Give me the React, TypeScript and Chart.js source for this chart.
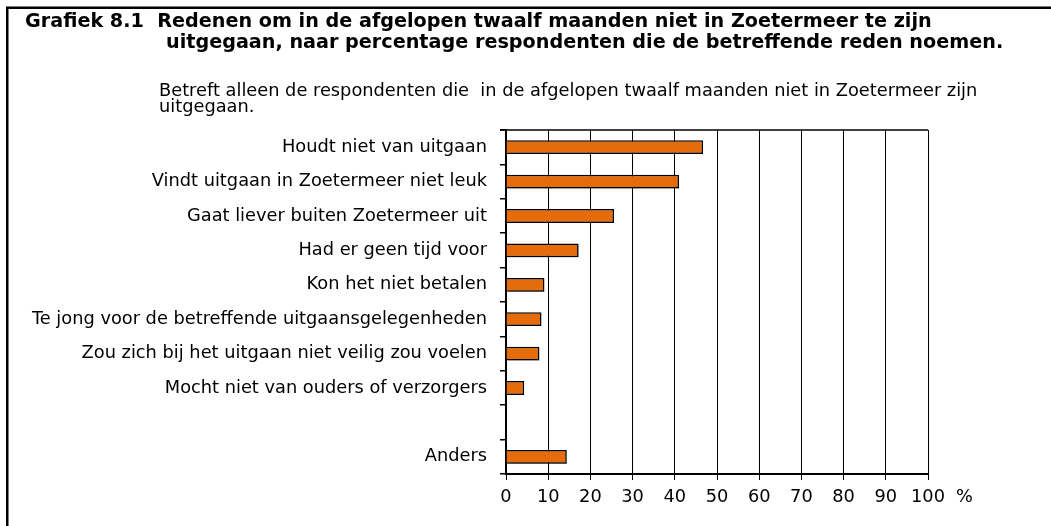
import React, { useEffect, useRef } from "react";
import { Chart, registerables } from "chart.js";

Chart.register(...registerables);

const categories = [
  "Houdt niet van uitgaan",
  "Vindt uitgaan in Zoetermeer niet leuk",
  "Gaat liever buiten Zoetermeer uit",
  "Had er geen tijd voor",
  "Kon het niet betalen",
  "Te jong voor de betreffende uitgaansgelegenheden",
  "Zou zich bij het uitgaan niet veilig zou voelen",
  "Mocht niet van ouders of verzorgers",
  "",
  "Anders",
];

const percentages: (number | null)[] = [46.7, 41.0, 25.6, 17.2, 9.1, 8.4, 7.9, 4.3, null, 14.4];

const xTickValues = [0, 10, 20, 30, 40, 50, 60, 70, 80, 90, 100];

const titleLines = [
  "Grafiek 8.1  Redenen om in de afgelopen twaalf maanden niet in Zoetermeer te zijn",
  "uitgegaan, naar percentage respondenten die de betreffende reden noemen.",
];

const subtitleLines = [
  "Betreft alleen de respondenten die  in de afgelopen twaalf maanden niet in Zoetermeer zijn",
  "uitgegaan.",
];

const unitLabel = "%";

const FONT = "'DejaVu Sans', sans-serif";

const decorPlugin = {
  id: "decor",
  beforeDatasetsDraw(chart: any) {
    const ctx = chart.ctx;
    ctx.save();
    ctx.shadowColor = "rgba(0,0,0,0.35)";
    ctx.shadowOffsetX = 1.5;
    ctx.shadowOffsetY = 1.5;
    ctx.shadowBlur = 1;
  },
  afterDatasetsDraw(chart: any) {
    chart.ctx.restore();
  },
  afterDraw(chart: any) {
    const ctx = chart.ctx;
    const area = chart.chartArea;
    const xScale = chart.scales.x;
    ctx.save();
    // outer frame
    ctx.strokeStyle = "#000";
    ctx.lineWidth = 2.5;
    ctx.strokeRect(7.25, 7.75, 1200, 800);
    // plot frame top and right
    ctx.lineWidth = 1.5;
    ctx.beginPath();
    ctx.moveTo(area.left - 6, area.top);
    ctx.lineTo(area.right, area.top);
    ctx.stroke();
    ctx.lineWidth = 1;
    ctx.beginPath();
    ctx.moveTo(area.right + 0.5, area.top);
    ctx.lineTo(area.right + 0.5, area.bottom);
    ctx.stroke();
    // titles
    ctx.fillStyle = "#000";
    ctx.textAlign = "left";
    ctx.textBaseline = "alphabetic";
    ctx.font = "bold 19.2px " + FONT;
    ctx.fillText(titleLines[0], 25, 27);
    ctx.fillText(titleLines[1], 166, 48);
    ctx.font = "17.8px " + FONT;
    ctx.fillText(subtitleLines[0], 159, 96);
    ctx.fillText(subtitleLines[1], 159, 112);
    // unit
    ctx.textBaseline = "middle";
    ctx.fillText(unitLabel, xScale.right + 28, xScale.top + 6 + 7 + 10.5);
    ctx.restore();
  },
};

export default function App() {
  const ref = useRef<HTMLCanvasElement | null>(null);

  useEffect(() => {
    if (!ref.current) return;
    const chart = new Chart(ref.current, {
      type: "bar",
      data: {
        labels: categories,
        datasets: [
          {
            data: percentages as any,
            backgroundColor: "#E46C0A",
            borderColor: "#000",
            borderWidth: 1.5,
            barPercentage: 0.4,
            categoryPercentage: 1,
          },
        ],
      },
      options: {
        indexAxis: "y",
        animation: false,
        responsive: false,
        devicePixelRatio: 1,
        layout: { padding: { left: 0, right: 123, top: 130, bottom: 0 } },
        plugins: {
          legend: { display: false },
          tooltip: { enabled: false },
          title: { display: false },
        },
        scales: {
          x: {
            type: "linear",
            min: 0,
            max: 100,
            afterBuildTicks: (scale: any) => {
              scale.ticks = xTickValues.map((v) => ({ value: v }));
            },
            afterFit: (scale: any) => {
              scale.height = 52;
            },
            grid: {
              color: "#000",
              lineWidth: 1,
              drawTicks: true,
              tickLength: 6,
            },
            border: { display: true, color: "#000", width: 2 },
            ticks: {
              color: "#000",
              padding: 7,
              maxRotation: 0,
              autoSkip: false,
              font: { family: FONT, size: 17.8 },
            },
          },
          y: {
            type: "category",
            afterFit: (scale: any) => {
              scale.width = 506;
            },
            grid: {
              display: true,
              drawOnChartArea: false,
              drawTicks: true,
              tickLength: 6,
              color: "#000",
              lineWidth: 1.5,
              offset: true,
            },
            border: { display: true, color: "#000", width: 2 },
            ticks: {
              color: "#000",
              padding: 13,
              autoSkip: false,
              font: { family: FONT, size: 17.8 },
            },
          },
        },
      },
      plugins: [decorPlugin],
    });
    return () => chart.destroy();
  }, []);

  return (
    <div style={{ position: "absolute", left: 0, top: 0, width: 1051, height: 526, background: "#fff" }}>
      <canvas ref={ref} width={1051} height={526} style={{ display: "block", width: 1051, height: 526 }} />
    </div>
  );
}
